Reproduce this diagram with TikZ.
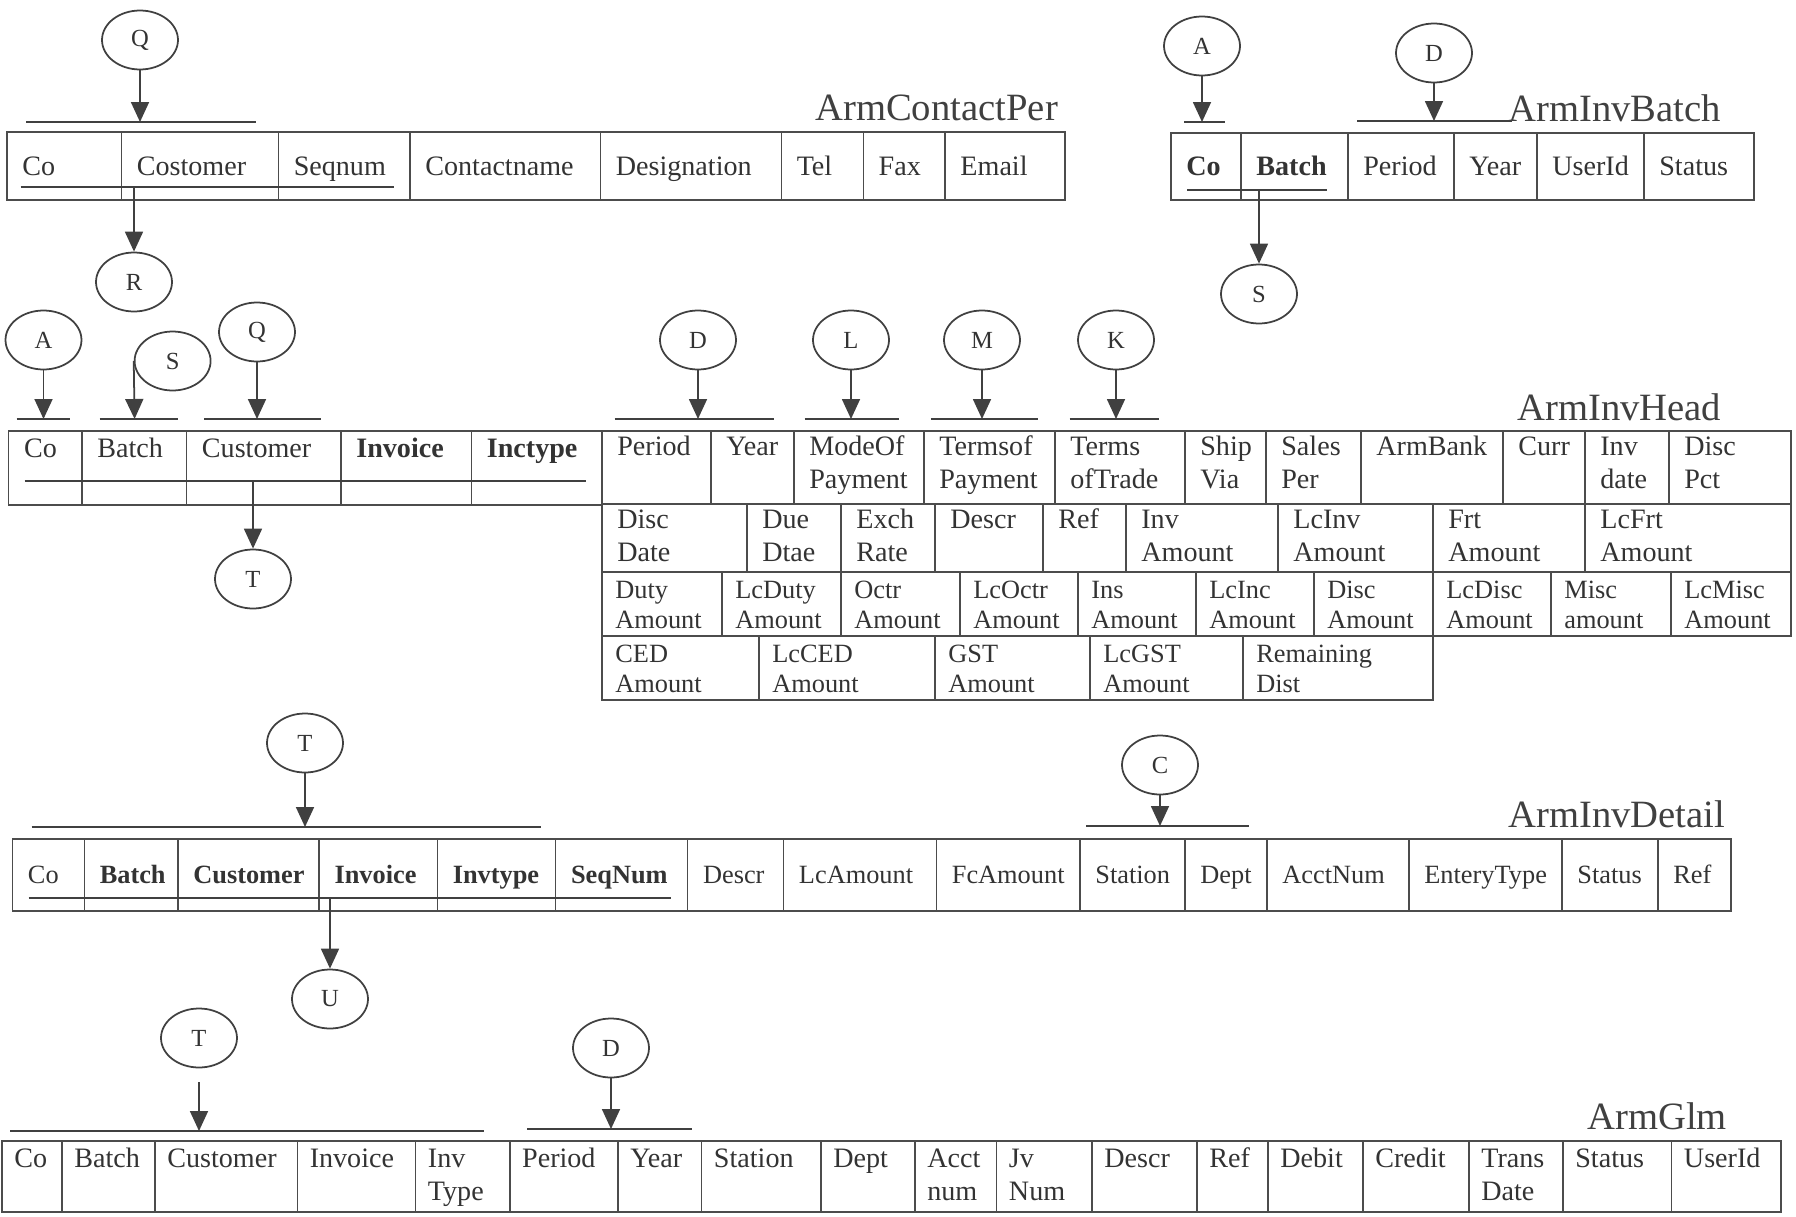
\documentclass[tikz,border=0pt]{standalone}
\usepackage{fontspec}
\setmainfont{Liberation Serif}
\usetikzlibrary{arrows.meta,shapes.geometric}
% two-line field text, baseline on its first line
\newcommand\fldtxt[1]{\begin{tabular}[t]{@{}l@{}}#1\end{tabular}}
\begin{document}
\begin{tikzpicture}[x=0.02cm,y=-0.02cm,
    key/.style={ellipse,draw=black!75,line width=1pt,minimum width=1.52cm,
      minimum height=1.18cm,inner sep=0pt,text=black!80,
      font=\fontsize{14}{16}\selectfont},
    fk/.style={draw=black!75,line width=1pt,-{Triangle[length=0.4cm,width=0.36cm]}},
    pk/.style={draw=black!75,line width=1.2pt},
    cell/.style={draw=black!70,line width=0.9pt},
    fld/.style={anchor=base west,inner sep=0pt,text=black!80,
      font=\fontsize{16}{19}\selectfont},
    fldsm/.style={fld,font=\fontsize{15}{17.5}\selectfont},
    ttl/.style={anchor=base west,inner sep=0pt,text=black!75,
      font=\fontsize{22}{26}\selectfont}]
  \useasboundingbox (0,0) rectangle (1796,1217);

  % ArmContactPer
  \node[ttl] (tcp) at (815,120) {ArmContactPer};
  \foreach \l/\r/\t [count=\i] in {7/121.5/Co,121.5/278.4/Costomer,
      278.4/410/Seqnum,410/600.5/Contactname,600.5/781.4/Designation,
      781.4/863.3/Tel,863.3/945.1/Fax,945.1/1065/Email} {
    \draw[cell] (\l,132) rectangle (\r,200);
    \node[fld] (cp\i) at (\l+15,175) {\t};
  }
  \draw[pk] (26,122) -- (256,122);
  \draw[pk] (20.5,187) -- (394,187);
  \node[key] (q1) at (140,40) {Q};
  \node[key] (r1) at (134,282) {R};
  \coordinate (q1k) at (140,122);
  \coordinate (r1k) at (134,187);
  \draw[fk] (q1) -- (q1k);
  \draw[fk] (r1k) -- (r1);

  % ArmInvBatch
  \node[ttl] (tib) at (1508,121) {ArmInvBatch};
  \foreach \l/\r/\t [count=\i] in {1171/1241/\textbf{Co},1241/1348/\textbf{Batch},
      1348/1454/Period,1454/1537/Year,1537/1644/UserId,1644/1754/Status} {
    \draw[cell] (\l,133) rectangle (\r,200);
    \node[fld] (ib\i) at (\l+15,175) {\t};
  }
  \draw[pk] (1184,122) -- (1225,122);
  \draw[pk] (1357,121) -- (1512,121);
  \draw[pk] (1187,190) -- (1327,190);
  \node[key] (a1) at (1202,46) {A};
  \node[key] (d1) at (1434,53) {D};
  \node[key] (s1) at (1259,294) {S};
  \coordinate (a1k) at (1202,122);
  \coordinate (d1k) at (1434,121);
  \coordinate (s1k) at (1259,190);
  \draw[fk] (a1) -- (a1k);
  \draw[fk] (d1) -- (d1k);
  \draw[fk] (s1k) -- (s1);

  % ArmInvHead
  \node[ttl] (tih) at (1517,420) {ArmInvHead};
  \foreach \l/\r/\t [count=\i] in {8.7/82/Co,82/186.6/Batch,186.6/341/Customer,
      341/471.5/\textbf{Invoice},471.5/602/\textbf{Inctype}} {
    \draw[cell] (\l,431) rectangle (\r,505);
    \node[fld] (hk\i) at (\l+15,457) {\t};
  }
  \foreach \l/\r/\t [count=\i] in {602/711/Period,711/794/Year,
      794/924/{ModeOf\\Payment},924/1055/{Termsof\\Payment},
      1055/1185/{Terms\\ofTrade},1185/1266/{Ship\\Via},1266/1361/{Sales\\Per},
      1361/1503/ArmBank,1503/1585/Curr,1585/1669/{Inv\\date},1669/1791/{Disc\\Pct}} {
    \draw[cell] (\l,431) rectangle (\r,504);
    \node[fld] (ha\i) at (\l+15,455) {\fldtxt{\t}};
  }
  \foreach \l/\r/\t [count=\i] in {602/747/{Disc\\Date},747/841/{Due\\Dtae},
      841/935/{Exch\\Rate},935/1043/Descr,1043/1126/Ref,1126/1278/{Inv\\Amount},
      1278/1433/{LcInv\\Amount},1433/1585/{Frt\\Amount},1585/1791/{LcFrt\\Amount}} {
    \draw[cell] (\l,504) rectangle (\r,572);
    \node[fld] (hb\i) at (\l+15,528) {\fldtxt{\t}};
  }
  \foreach \l/\r/\t [count=\i] in {602/722/{Duty\\Amount},722/841/{LcDuty\\Amount},
      841/960/{Octr\\Amount},960/1078/{LcOctr\\Amount},1078/1196/{Ins\\Amount},
      1196/1314/{LcInc\\Amount},1314/1433/{Disc\\Amount},1433/1551/{LcDisc\\Amount},
      1551/1671/{Misc\\amount},1671/1791/{LcMisc\\Amount}} {
    \draw[cell] (\l,572) rectangle (\r,636);
    \node[fldsm] (hc\i) at (\l+13,598) {\fldtxt{\t}};
  }
  \foreach \l/\r/\t [count=\i] in {602/759/{CED\\Amount},759/935/{LcCED\\Amount},
      935/1090/{GST\\Amount},1090/1243/{LcGST\\Amount},1243/1433/{Remaining\\Dist}} {
    \draw[cell] (\l,636) rectangle (\r,700);
    \node[fldsm] (hd\i) at (\l+13,662) {\fldtxt{\t}};
  }
  \draw[pk] (24.5,481) -- (586,481);
  \foreach \a/\b in {16.6/70.4,99.6/178,204.4/321,614.5/774,804.7/899.2,
      930.8/1037.6,1069.6/1159.4}
    \draw[pk] (\a,419) -- (\b,419);
  \node[key] (a2) at (43.5,340) {A};
  \node[key] (s2) at (172.6,361) {S};
  \node[key] (q2) at (257,332) {Q};
  \node[key] (t1) at (253,579) {T};
  \node[key] (d2) at (698,340) {D};
  \node[key] (l2) at (851,340) {L};
  \node[key] (m2) at (982,340) {M};
  \node[key] (k2) at (1116,340) {K};
  \coordinate (a2k) at (43.5,419);
  \coordinate (s2k) at (134.6,419);
  \coordinate (q2k) at (257,419);
  \coordinate (t1k) at (253,481);
  \coordinate (d2k) at (698,419);
  \coordinate (l2k) at (851,419);
  \coordinate (m2k) at (982,419);
  \coordinate (k2k) at (1116,419);
  \draw[fk] (a2) -- (a2k);
  \draw[fk] (s2.west) -- (s2k);
  \draw[fk] (q2) -- (q2k);
  \draw[fk] (t1k) -- (t1);
  \foreach \n in {d2,l2,m2,k2}
    \draw[fk] (\n) -- (\n k);

  % ArmInvDetail
  \node[ttl] (tid) at (1508,827) {ArmInvDetail};
  \foreach \l/\r/\t [count=\i] in {12.6/84.4/Co,84.4/178/\textbf{Batch},
      178/319.2/\textbf{Customer},319.2/437.4/\textbf{Invoice},
      437.4/555.7/\textbf{Invtype},555.7/687.7/\textbf{SeqNum},687.7/783.6/Descr,
      783.6/936.5/LcAmount,936.5/1080/FcAmount,1080/1185/Station,1185/1267/Dept,
      1267/1409/AcctNum,1409/1562/EnteryType,1562/1658/Status,1658/1731/Ref} {
    \draw[cell] (\l,839) rectangle (\r,911);
    \node[fldsm] (id\i) at (\l+15,883) {\t};
  }
  \draw[pk] (31.6,827) -- (540.8,827);
  \draw[pk] (28.7,898) -- (670.5,898);
  \draw[pk] (1086,826) -- (1249,826);
  \node[key] (t2) at (305,743) {T};
  \node[key] (u2) at (330,999) {U};
  \node[key] (c2) at (1160,765) {C};
  \coordinate (t2k) at (305,827);
  \coordinate (u2k) at (330,898);
  \coordinate (c2k) at (1160,826);
  \draw[fk] (t2) -- (t2k);
  \draw[fk] (u2k) -- (u2);
  \draw[fk] (c2) -- (c2k);

  % ArmGlm
  \node[ttl] (tgl) at (1587,1129) {ArmGlm};
  \foreach \l/\r/\t [count=\i] in {2/62/Co,62/155/Batch,155/297.4/Customer,
      297.4/415.6/Invoice,415.6/509.8/{Inv\\Type},509.8/618/Period,618/701.6/Year,
      701.6/821/Station,821/915/Dept,915/996.6/{Acct\\num},996.6/1092/{Jv\\Num},
      1092/1197/Descr,1197/1268/Ref,1268/1363/Debit,1363/1469/Credit,
      1469/1563/{Trans\\Date},1563/1671.6/Status,1671.6/1781/UserId} {
    \draw[cell] (\l,1141) rectangle (\r,1212);
    \node[fld] (gl\i) at (\l+12,1167) {\fldtxt{\t}};
  }
  \draw[pk] (10.3,1131) -- (484,1131);
  \draw[pk] (527,1129) -- (691.7,1129);
  \node[key] (t3) at (199,1038) {T};
  \node[key] (d3) at (611,1048) {D};
  \coordinate (t3k) at (199,1131);
  \coordinate (d3k) at (611,1129);
  \draw[fk,shorten <=0.28cm] (t3) -- (t3k);
  \draw[fk] (d3) -- (d3k);
\end{tikzpicture}
\end{document}
